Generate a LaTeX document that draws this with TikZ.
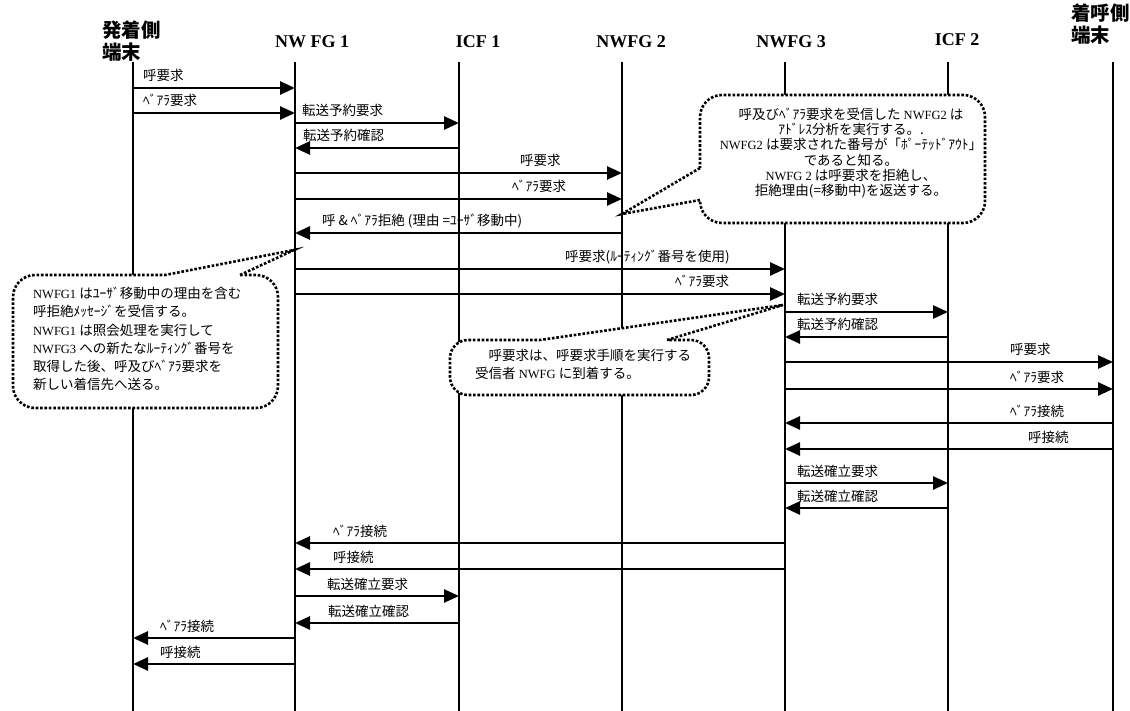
\documentclass[tikz,border=0pt]{standalone}
\usepackage{fontspec}
\setmainfont{Liberation Serif}
\newfontfamily\jp[Scale=1.08]{Noto Sans CJK JP}
\newcommand\J[1]{{\jp #1}}
\usetikzlibrary{arrows.meta}

\begin{document}
\begin{tikzpicture}[x=1pt,y=-1pt,
  life/.style={line width=2.6pt},
  msg/.style={line width=2.6pt,-{Triangle[length=15pt,width=13pt]}},
  lbl/.style={font=\jp\fontsize{12.5}{14}\selectfont,anchor=base west,inner sep=0pt},
  hd/.style={font=\bfseries\fontsize{18}{22}\selectfont,anchor=base},
  callout/.style={line width=2.6pt,dash pattern=on 2.6pt off 1.8pt,fill=white},
  ctext/.style={inner sep=0pt}]
\useasboundingbox (0,0) rectangle (1130,711);

\node[hd,anchor=north west,align=left] (src) at (99,17) {\jp 発着側\\\jp 端末};
\node[hd] (h-fg1) at (312,48) {NW FG 1};
\node[hd] (h-icf1) at (478,48) {ICF 1};
\node[hd] (h-fg2) at (631,48) {NWFG 2};
\node[hd] (h-fg3) at (791,48) {NWFG 3};
\node[hd] (h-icf2) at (957,46) {ICF 2};
\node[hd,anchor=north west,align=left] (dst) at (1068,0) {\jp 着呼側\\\jp 端末};

\foreach \n/\x in {ue1/133,fg1/295,icf1/459,fg2/622,fg3/785,icf2/948,ue2/1113}{
  \coordinate (\n) at (\x,62);
  \coordinate (\n-e) at (\x,711);
  \draw[life] (\n) -- (\n-e);
}

\draw[callout] (700,168) -- (622,214) -- (700,200) [rounded corners=22pt] -- (700,223) -- (985,223) -- (985,95) -- (700,95) -- (700,168);
\node[ctext,align=center,font=\fontsize{12.5}{15.2}\selectfont] (n-fg2) at (851,153) {\J{呼及びﾍﾞｱﾗ要求を受信した} NWFG2 \J{は}\\
  \J{ｱﾄﾞﾚｽ分析を実行する。.}\hspace*{82pt}\\
  NWFG2 \J{は要求された番号が「ﾎﾟｰﾃｯﾄﾞｱｳﾄ」}\\
  \J{であると知る。}\\
  NWFG 2 \J{は呼要求を拒絶し、}\hspace*{70pt}\\
  \J{拒絶理由(=移動中)を返送する。}};

\draw[callout] (240,275) -- (294,250) -- (165,275) [rounded corners=22pt] -- (13,275) -- (13,408) -- (278,408) -- (278,275) -- (240,275);
\node[ctext,align=left,anchor=north west,font=\fontsize{12.5}{18.2}\selectfont] (n-fg1) at (33,287) {NWFG1 \J{はﾕｰｻﾞ移動中の理由を含む}\\
  \J{呼拒絶ﾒｯｾｰｼﾞを受信する。}\\
  NWFG1 \J{は照会処理を実行して}\\
  NWFG3 \J{への新たなﾙｰﾃｨﾝｸﾞ番号を}\\
  \J{取得した後、呼及びﾍﾞｱﾗ要求を}\\
  \J{新しい着信先へ送る。}};

\draw[callout] (667,340) -- (783,305) -- (540,340) [rounded corners=18pt] -- (450,340) -- (450,395) -- (709,395) -- (709,340) -- (667,340);
\node[ctext,align=left,anchor=north west,font=\fontsize{12.5}{18.2}\selectfont] (n-fg3) at (475,349) {\J{　呼要求は、呼要求手順を実行する}\\
  \J{受信者} NWFG \J{に到着する。}};

\draw[msg] (ue1 |- 0,88) -- (fg1 |- 0,88);
\node[lbl] at (143,81) {呼要求};
\draw[msg] (ue1 |- 0,113) -- (fg1 |- 0,113);
\node[lbl] at (143,106) {ﾍﾞｱﾗ要求};
\draw[msg] (fg1 |- 0,123) -- (icf1 |- 0,123);
\node[lbl] at (302,116) {転送予約要求};
\draw[msg] (icf1 |- 0,148) -- (fg1 |- 0,148);
\node[lbl] at (303,141) {転送予約確認};
\draw[msg] (fg1 |- 0,173) -- (fg2 |- 0,173);
\node[lbl] at (520,166) {呼要求};
\draw[msg] (fg1 |- 0,199) -- (fg2 |- 0,199);
\node[lbl] at (512,192) {ﾍﾞｱﾗ要求};
\draw[msg] (fg2 |- 0,233) -- (fg1 |- 0,233);
\node[lbl] at (322,226) {呼 \& ﾍﾞｱﾗ拒絶 (理由 =ﾕｰｻﾞ移動中)};
\draw[msg] (fg1 |- 0,269) -- (fg3 |- 0,269);
\node[lbl] at (565,262) {呼要求(ﾙｰﾃｨﾝｸﾞ番号を使用)};
\draw[msg] (fg1 |- 0,294) -- (fg3 |- 0,294);
\node[lbl] at (675,287) {ﾍﾞｱﾗ要求};
\draw[msg] (fg3 |- 0,312) -- (icf2 |- 0,312);
\node[lbl] at (797,305) {転送予約要求};
\draw[msg] (icf2 |- 0,337) -- (fg3 |- 0,337);
\node[lbl] at (797,330) {転送予約確認};
\draw[msg] (fg3 |- 0,362) -- (ue2 |- 0,362);
\node[lbl] at (1010,355) {呼要求};
\draw[msg] (fg3 |- 0,389) -- (ue2 |- 0,389);
\node[lbl] at (1010,382) {ﾍﾞｱﾗ要求};
\draw[msg] (ue2 |- 0,423) -- (fg3 |- 0,423);
\node[lbl] at (1010,416) {ﾍﾞｱﾗ接続};
\draw[msg] (ue2 |- 0,449) -- (fg3 |- 0,449);
\node[lbl] at (1028,442) {呼接続};
\draw[msg] (fg3 |- 0,483) -- (icf2 |- 0,483);
\node[lbl] at (797,476) {転送確立要求};
\draw[msg] (icf2 |- 0,508) -- (fg3 |- 0,508);
\node[lbl] at (797,501) {転送確立確認};
\draw[msg] (fg3 |- 0,543) -- (fg1 |- 0,543);
\node[lbl] at (333,536) {ﾍﾞｱﾗ接続};
\draw[msg] (fg3 |- 0,569) -- (fg1 |- 0,569);
\node[lbl] at (333,562) {呼接続};
\draw[msg] (fg1 |- 0,596) -- (icf1 |- 0,596);
\node[lbl] at (327,589) {転送確立要求};
\draw[msg] (icf1 |- 0,623) -- (fg1 |- 0,623);
\node[lbl] at (328,616) {転送確立確認};
\draw[msg] (fg1 |- 0,638) -- (ue1 |- 0,638);
\node[lbl] at (160,631) {ﾍﾞｱﾗ接続};
\draw[msg] (fg1 |- 0,664) -- (ue1 |- 0,664);
\node[lbl] at (160,657) {呼接続};
\end{tikzpicture}
\end{document}
